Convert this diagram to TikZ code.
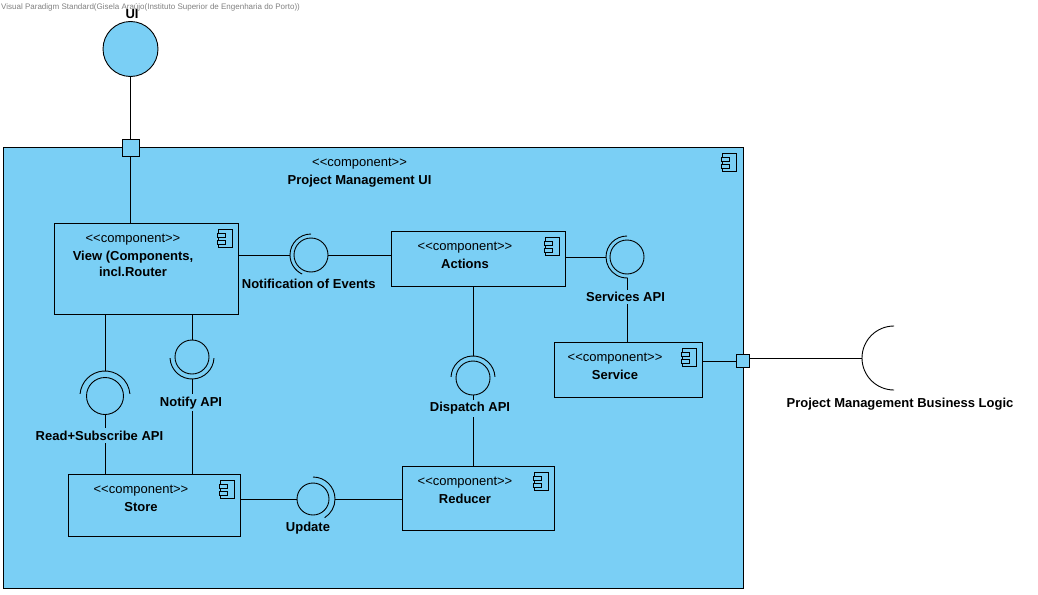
\documentclass[tikz,border=0pt]{standalone}
\usepackage{fontspec}
\setmainfont{Liberation Sans}
\usetikzlibrary{
    positioning,
    calc
}
\definecolor{compblue}{RGB}{122,207,245}
\newcommand\compstereo{<\kern0pt<component>\kern0pt>}

\begin{document}
\begin{tikzpicture}[
    x=1pt,
    y=1pt,
    every node/.style={
        font=\fontsize{13pt}{16pt}\selectfont
    },
    compbox/.style={
        rectangle,
        draw=black,
        line width=0.9pt,
        fill=compblue,
        inner sep=0pt
    },
    comptext/.style={
        align=center,
        anchor=north,
        inner sep=0pt
    },
    ball/.style={
        circle,
        draw=black,
        line width=0.9pt,
        fill=compblue,
        inner sep=0pt,
        minimum size=34pt
    },
    socket/.style={
        draw=black,
        line width=0.9pt
    },
    wire/.style={
        draw=black,
        line width=0.9pt
    },
    port/.style={
        rectangle,
        draw=black,
        line width=0.9pt,
        fill=compblue,
        inner sep=0pt,
        minimum size=13pt
    },
    iflabel/.style={
        font=\fontsize{13pt}{16pt}\selectfont\bfseries,
        anchor=base,
        inner sep=2.5pt
    },
    wirelabel/.style={
        iflabel,
        fill=compblue
    },
    watermark/.style={
        font=\fontsize{8pt}{9pt}\selectfont,
        text=black!50,
        anchor=base west,
        inner sep=0pt
    },
    compicon/.pic={
        \draw[line width=0.8pt, fill=compblue] (-7,-9) rectangle (7,9);
        \draw[line width=0.8pt, fill=compblue] (-8.5,1) rectangle (-0.5,5);
        \draw[line width=0.8pt, fill=compblue] (-8.5,-2) rectangle (-0.5,-6);
    }
]

\useasboundingbox (0,0) rectangle (1038,-594);

\node[watermark] (wm) at (1,-9.5) {Visual Paradigm Standard(Gisela Araújo(Instituto Superior de Engenharia do Porto))};

% ==========================================================
% Outer component
% ==========================================================
\node[
    compbox,
    minimum width=740pt,
    minimum height=441pt
] (pmui) at (373,-367.5) {};
\pic at ($(pmui.north east)+(-14,-16)$) {compicon};
\node[comptext] (pmuitext) at ($(pmui.north west)+(357,-11)$) {
    \compstereo\\[2.5pt]
    \textbf{Project Management UI}
};

% ==========================================================
% Inner components
% ==========================================================
\node[compbox, minimum width=184pt, minimum height=91pt] (view) at (146,-268.5) {};
\pic at ($(view.north east)+(-13,-16)$) {compicon};
\node[comptext] (viewtext) at ($(view.north)+(-13,-11)$) {
    \compstereo\\[2.5pt]
    \textbf{View (Components,}\\
    \textbf{incl.Router}
};

\node[compbox, minimum width=174pt, minimum height=55pt] (actions) at (478,-258.5) {};
\pic at ($(actions.north east)+(-13,-16)$) {compicon};
\node[comptext] (actionstext) at ($(actions.north)+(-13,-11)$) {
    \compstereo\\[2.5pt]
    \textbf{Actions}
};

\node[compbox, minimum width=148pt, minimum height=55pt] (service) at (628,-369.5) {};
\pic at ($(service.north east)+(-13,-16)$) {compicon};
\node[comptext] (servicetext) at ($(service.north)+(-13,-11)$) {
    \compstereo\\[2.5pt]
    \textbf{Service}
};

\node[compbox, minimum width=172pt, minimum height=62pt] (store) at (154,-505) {};
\pic at ($(store.north east)+(-13,-16)$) {compicon};
\node[comptext] (storetext) at ($(store.north)+(-13,-11)$) {
    \compstereo\\[2.5pt]
    \textbf{Store}
};

\node[compbox, minimum width=152pt, minimum height=64pt] (reducer) at (478,-498) {};
\pic at ($(reducer.north east)+(-13,-16)$) {compicon};
\node[comptext] (reducertext) at ($(reducer.north)+(-13,-11)$) {
    \compstereo\\[2.5pt]
    \textbf{Reducer}
};

% ==========================================================
% Ports and external interfaces
% ==========================================================
\node[ball, minimum size=55pt] (ui) at (130.5,-49) {};
\node[iflabel] (uilab) at (132,-18.5) {UI};
\node[port, minimum size=17pt] (uiport) at (130.5,-148) {};
\draw[wire] (ui.south) -- (uiport.north);
\draw[wire] (uiport.south) -- (uiport |- view.north);

\node[port] (blport) at (743,-361) {};
\coordinate (blsock) at (894,-358);
\draw[socket] ($(blsock)+(90:32)$) arc[start angle=90, end angle=270, radius=32];
\draw[wire] (service.east |- blport) -- (blport.west);
\draw[wire] (blport.east |- blsock) -- ($(blsock)+(-32,0)$);
\node[iflabel] (bllab) at (900,-407) {Project Management Business Logic};

% ==========================================================
% Inner interfaces
% ==========================================================
% Notification of Events
\node[ball] (notif) at (311,-255) {};
\draw[socket] ($(notif)+(90:21)$) arc[start angle=90, end angle=245, radius=21];
\draw[wire] (view.east |- notif) -- ($(notif)+(-21,0)$);
\draw[wire] (notif.east) -- (notif.east -| actions.west);

% Services API
\node[ball] (svc) at (627,-257) {};
\draw[socket] ($(svc)+(90:21)$) arc[start angle=90, end angle=272, radius=21];
\draw[wire] (actions.east |- svc) -- ($(svc)+(-21,0)$);
\draw[wire] ($(svc)+(0,-21)$) -- (svc |- service.north);

% Read+Subscribe API
\node[ball, minimum size=37pt] (rsub) at (105,-396) {};
\draw[socket] ($(rsub)+(5:25)$) arc[start angle=5, end angle=175, radius=25];
\draw[wire] (rsub |- view.south) -- ($(rsub)+(0,25)$);
\draw[wire] (rsub.south) -- (rsub |- store.north);

% Notify API
\node[ball] (notify) at (192,-357) {};
\draw[socket] ($(notify)+(183:22)$) arc[start angle=183, end angle=357, radius=22];
\draw[wire] (notify |- view.south) -- (notify.north);
\draw[wire] ($(notify)+(0,-22)$) -- (notify |- store.north);

% Dispatch API
\node[ball] (disp) at (473,-378) {};
\draw[socket] ($(disp)+(3:22)$) arc[start angle=3, end angle=177, radius=22];
\draw[wire] (disp |- actions.south) -- ($(disp)+(0,22)$);
\draw[wire] (disp.south) -- (disp |- reducer.north);

% Update
\node[ball, minimum size=32pt] (upd) at (313,-499) {};
\draw[socket] ($(upd)+(90:22)$) arc[start angle=90, end angle=-58, radius=22];
\draw[wire] (store.east |- upd) -- (upd.west);
\draw[wire] ($(upd)+(22,0)$) -- (reducer.west |- upd);

% interface labels
\node[iflabel] (notiflab) at (308.7,-288.3) {Notification of Events};
\node[wirelabel] (svclab) at (625.5,-301.7) {Services API};
\node[wirelabel] (rsublab) at (99.5,-440) {Read+Subscribe API};
\node[wirelabel] (notifylab) at (191,-406) {Notify API};
\node[wirelabel] (displab) at (470,-411.7) {Dispatch API};
\node[iflabel] (updlab) at (308,-531.7) {Update};

\end{tikzpicture}
\end{document}
